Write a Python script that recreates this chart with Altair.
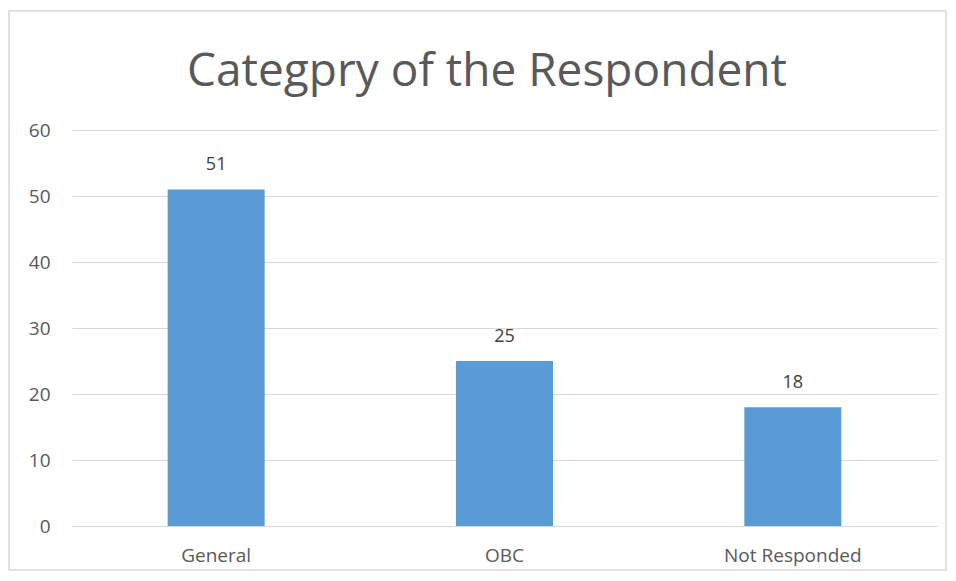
import altair as alt
import pandas as pd

categories = ["General", "OBC", "Not Responded"]
values = [51, 25, 18]
title_text = "Categpry of the Respondent"

df = pd.DataFrame({"category": categories, "value": values})

FONT = "Open Sans"
GREY = "#595959"

x_enc = alt.X("category:N", sort=categories,
              scale=alt.Scale(paddingInner=0.0, paddingOuter=0.0),
              axis=alt.Axis(title=None, labelAngle=0, labelFontSize=19, labelColor=GREY,
                            labelFont=FONT, ticks=False, domain=False, labelPadding=20,
                            grid=False))
y_enc = alt.Y("value:Q", scale=alt.Scale(domain=[0, 60]),
              axis=alt.Axis(title=None, values=[0, 10, 20, 30, 40, 50, 60], labelFontSize=19,
                            labelColor=GREY, labelFont=FONT, ticks=False, domain=False,
                            labelPadding=22, gridColor="#d9d9d9", gridWidth=1))

base = alt.Chart(df)

bars = base.mark_bar(color="#5b9bd5", size=97).encode(x=x_enc, y=y_enc)

labels = base.mark_text(dy=-15, fontSize=18, color="#404040", font=FONT, baseline="bottom").encode(
    x=alt.X("category:N", sort=categories), y="value:Q", text="value:Q")

title = alt.Chart(pd.DataFrame({"t": [title_text]})).mark_text(
    fontSize=46, color=GREY, font=FONT, align="center", baseline="middle"
).encode(x=alt.value(415), y=alt.value(-58), text="t:N")

border = alt.Chart(pd.DataFrame({"a": [0]})).mark_rect(
    fill=None, stroke="#d9d9d9", strokeWidth=1.5
).encode(x=alt.value(-63), x2=alt.value(874), y=alt.value(-119), y2=alt.value(440))

chart = alt.layer(border, bars, labels, title).properties(
    width=865, height=396,
    autosize=alt.AutoSizeParams(type="none"),
    padding={"left": 64, "top": 122, "right": 10, "bottom": 46},
    background="white",
).configure_view(stroke=None)

chart.save("out.html", embed_options={"renderer": "svg", "actions": False})
